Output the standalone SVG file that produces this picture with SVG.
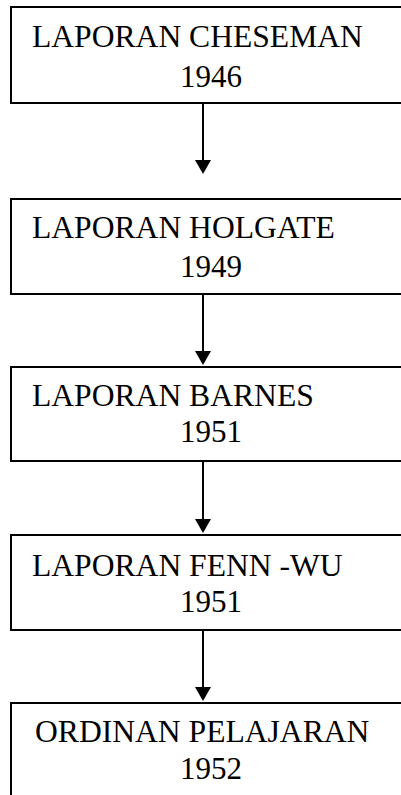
<svg xmlns="http://www.w3.org/2000/svg" width="401" height="795" viewBox="0 0 401 795">
<style>
.box{fill:#fff;stroke:#000;stroke-width:2}
.t{font-family:"Liberation Serif","Times New Roman",serif;font-size:31.6px;fill:#000}
.y{font-family:"Liberation Serif","Times New Roman",serif;font-size:31px;fill:#000}
.c{stroke:#000;stroke-width:2;fill:none}
</style>
<defs>
<marker id="ah" markerUnits="userSpaceOnUse" viewBox="0 0 14 16" markerWidth="14" markerHeight="16" refX="6" refY="8" orient="auto">
<path d="M0,0 L14,8 L0,16 Z" fill="#000"/>
</marker>
</defs>
<rect width="401" height="795" fill="#fff"/>
<g id="connectors">
<line class="c" x1="203" y1="103" x2="203" y2="166" marker-end="url(#ah)"/>
<line class="c" x1="203" y1="294" x2="203" y2="357" marker-end="url(#ah)"/>
<line class="c" x1="203" y1="461" x2="203" y2="525" marker-end="url(#ah)"/>
<line class="c" x1="203" y1="630" x2="203" y2="693" marker-end="url(#ah)"/>
</g>
<g id="n1">
<rect class="box" x="11" y="7" width="400" height="96"/>
<text class="t" x="32" y="47">LAPORAN CHESEMAN</text>
<text class="y" x="180" y="87">1946</text>
</g>
<g id="n2">
<rect class="box" x="11" y="199" width="400" height="95"/>
<text class="t" x="32" y="238">LAPORAN HOLGATE</text>
<text class="y" x="180" y="277">1949</text>
</g>
<g id="n3">
<rect class="box" x="11" y="367" width="400" height="94"/>
<text class="t" x="32" y="406">LAPORAN BARNES</text>
<text class="y" x="180" y="442">1951</text>
</g>
<g id="n4">
<rect class="box" x="11" y="535" width="400" height="95"/>
<text class="t" x="32" y="576">LAPORAN FENN -WU</text>
<text class="y" x="180" y="612">1951</text>
</g>
<g id="n5">
<rect class="box" x="11" y="703" width="400" height="110"/>
<text class="t" x="35" y="742">ORDINAN PELAJARAN</text>
<text class="y" x="180" y="779">1952</text>
</g>
</svg>
